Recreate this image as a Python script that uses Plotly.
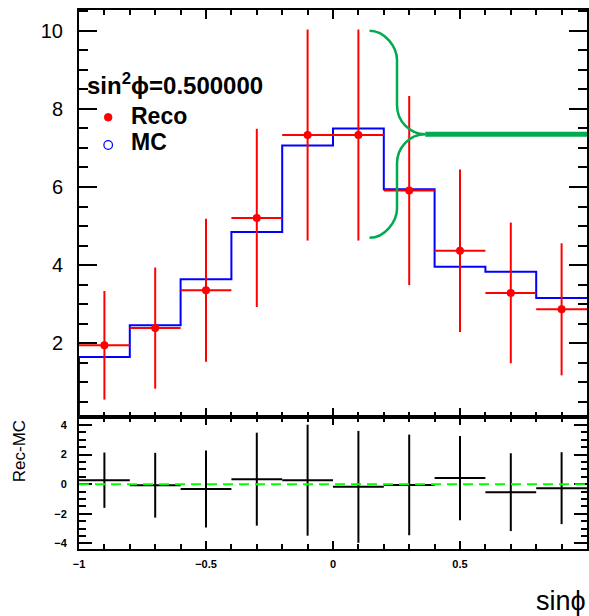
import plotly.graph_objects as go

# ---------------- data ----------------
bin_edges = [-1.0, -0.8, -0.6, -0.4, -0.2, 0.0, 0.2, 0.4, 0.6, 0.8, 1.0]
reco_vals = [1.95, 2.39, 3.36, 5.21, 7.33, 7.33, 5.91, 4.37, 3.29, 2.87]
reco_errs = [1.39, 1.55, 1.83, 2.28, 2.70, 2.70, 2.42, 2.08, 1.80, 1.69]
mc_vals = [1.65, 2.46, 3.64, 4.85, 7.06, 7.50, 5.94, 3.96, 3.83, 3.16]
res_vals = [0.27, -0.07, -0.32, 0.34, 0.27, -0.18, -0.05, 0.41, -0.54, -0.27]
res_errs = [1.87, 2.19, 2.60, 3.14, 3.75, 3.78, 3.40, 2.84, 2.63, 2.43]

top_ticks = [2, 4, 6, 8, 10]
bot_yticks = [-4, -2, 0, 2, 4]
x_ticks = [-1, -0.5, 0, 0.5]
x_ticklabels = ["\u22121", "\u22120.5", "0", "0.5"]

legend_title = "sin<sup>2</sup>\u03d5=0.500000"
legend_labels = ["Reco", "MC"]

# brace annotation (data coords of top pad)
brace_x = [0.144, 0.252, 0.363]
brace_y = [10.0, 7.35, 4.70]
brace_r = 0.75

# ---------------- derived ----------------
centers = [(bin_edges[i] + bin_edges[i + 1]) / 2 for i in range(len(bin_edges) - 1)]
halfw = [(bin_edges[i + 1] - bin_edges[i]) / 2 for i in range(len(bin_edges) - 1)]
step_x = [bin_edges[0]] + bin_edges
step_y = [0.0] + mc_vals + [mc_vals[-1]]

RED = "#ff0000"
BLUE = "#0000ff"
GREEN = "#00aa4f"
LIME = "#00ff00"
FONT = "Liberation Sans"

W, H = 589, 616
ML, MR, MT, MB = 79, 0, 10, 67
PW, PH = W - ML - MR, H - MT - MB
split = (549 - 417) / PH


def px(xp):
    return (xp - ML) / PW


def py(yp):
    return (H - MB - yp) / PH


fig = go.Figure()

# MC histogram (top)
fig.add_trace(go.Scatter(x=step_x, y=step_y, mode="lines", line=dict(color=BLUE, width=2, shape="hv"),
                         xaxis="x2", yaxis="y2", showlegend=False, hoverinfo="skip"))
# Reco points (top)
fig.add_trace(go.Scatter(x=centers, y=reco_vals, mode="markers",
                         marker=dict(color=RED, size=8),
                         error_y=dict(type="data", array=reco_errs, color=RED, thickness=2, width=0),
                         error_x=dict(type="data", array=halfw, color=RED, thickness=2, width=0),
                         xaxis="x2", yaxis="y2", showlegend=False))
# residuals (bottom)
fig.add_trace(go.Scatter(x=centers, y=res_vals, mode="markers",
                         marker=dict(color="black", size=1),
                         error_y=dict(type="data", array=res_errs, color="black", thickness=2, width=0),
                         error_x=dict(type="data", array=halfw, color="black", thickness=2, width=0),
                         xaxis="x", yaxis="y", showlegend=False))

# brace path
k = 0.552
x0, xm, xt = brace_x
yt, yc, yb = brace_y
r = brace_r
path = (
    f"M {x0},{yt} C {x0 + k*(xm-x0)},{yt} {xm},{yt - k*r} {xm},{yt - r} "
    f"L {xm},{yc + r} C {xm},{yc + r - k*r} {xm + (1-k)*(xt-xm)},{yc} {xt},{yc} "
    f"C {xm + (1-k)*(xt-xm)},{yc} {xm},{yc - r + k*r} {xm},{yc - r} "
    f"L {xm},{yb + r} C {xm},{yb + k*r} {x0 + k*(xm-x0)},{yb} {x0},{yb}"
)
shapes = [
    dict(type="path", path=path, xref="x2", yref="y2", line=dict(color=GREEN, width=2.5)),
    dict(type="line", x0=xt, x1=bin_edges[-1], y0=yc, y1=yc, xref="x2", yref="y2",
         line=dict(color=GREEN, width=5)),
    dict(type="line", x0=bin_edges[0], x1=bin_edges[-1], y0=0, y1=0, xref="x", yref="y",
         line=dict(color=LIME, width=2, dash="10px,6px")),
    # legend markers
    dict(type="circle", xref="paper", yref="paper", xsizemode="pixel", ysizemode="pixel",
         xanchor=px(108.3), yanchor=py(117.3), x0=-3.8, x1=3.8, y0=-3.8, y1=3.8,
         fillcolor=RED, line=dict(color=RED, width=1)),
    dict(type="circle", xref="paper", yref="paper", xsizemode="pixel", ysizemode="pixel",
         xanchor=px(108.3), yanchor=py(145), x0=-4.3, x1=4.3, y0=-4.3, y1=4.3,
         line=dict(color=BLUE, width=1.2)),
]

annotations = [
    dict(text="<b>" + legend_title + "</b>", xref="paper", yref="paper", x=px(85), y=py(84),
         xanchor="left", yanchor="middle", showarrow=False, font=dict(family=FONT, size=24, color="black")),
    dict(text="<b>" + legend_labels[0] + "</b>", xref="paper", yref="paper", x=px(129), y=py(115.5),
         xanchor="left", yanchor="middle", showarrow=False, font=dict(family=FONT, size=23, color="black")),
    dict(text="<b>" + legend_labels[1] + "</b>", xref="paper", yref="paper", x=px(129), y=py(141.5),
         xanchor="left", yanchor="middle", showarrow=False, font=dict(family=FONT, size=23, color="black")),
    dict(text="Rec-MC", xref="paper", yref="paper", x=px(20), y=py(451), textangle=-90,
         xanchor="center", yanchor="middle", showarrow=False, font=dict(family=FONT, size=17, color="black")),
    dict(text="sin\u03d5", xref="paper", yref="paper", x=px(536), y=py(601),
         xanchor="left", yanchor="middle", showarrow=False, font=dict(family=FONT, size=27, color="black")),
]

axis_common = dict(showline=True, linecolor="black", linewidth=2, mirror="ticks", ticks="inside",
                   tickcolor="black", tickwidth=2, showgrid=False, zeroline=False)

fig.update_layout(
    width=W, height=H, margin=dict(l=ML, r=MR, t=MT, b=MB),
    paper_bgcolor="white", plot_bgcolor="white", showlegend=False,
    shapes=shapes, annotations=annotations,
    xaxis=dict(domain=[0, 1], anchor="y", range=[bin_edges[0], bin_edges[-1]],
               tickvals=x_ticks, ticktext=x_ticklabels, ticklen=8,
               minor=dict(dtick=0.1, ticklen=5, tickwidth=2, tickcolor="black", ticks="inside", showgrid=False),
               tickfont=dict(family=FONT, size=11, color="black", weight="bold"), ticklabelstandoff=4,
               **axis_common),
    yaxis=dict(domain=[0, split], anchor="x", range=[-4.38, 4.54], tickvals=bot_yticks, ticklen=13,
               minor=dict(dtick=0.5, ticklen=6.5, tickwidth=2, tickcolor="black", ticks="inside", showgrid=False),
               tickfont=dict(family=FONT, size=11, color="black", weight="bold"), ticklabelstandoff=8,
               **axis_common),
    xaxis2=dict(domain=[0, 1], anchor="y2", matches="x", range=[bin_edges[0], bin_edges[-1]],
                tickvals=x_ticks, showticklabels=False, ticklen=9,
                minor=dict(dtick=0.1, ticklen=5, tickwidth=2, tickcolor="black", ticks="inside", showgrid=False),
                **axis_common),
    yaxis2=dict(domain=[split, 1], anchor="x2", range=[0.115, 10.53], tickvals=top_ticks, ticklen=18,
                minor=dict(dtick=0.5, ticklen=9, tickwidth=2, tickcolor="black", ticks="inside", showgrid=False),
                tickfont=dict(family=FONT, size=20, color="black"), ticklabelstandoff=10,
                **axis_common),
)

fig.write_html("out.html")
